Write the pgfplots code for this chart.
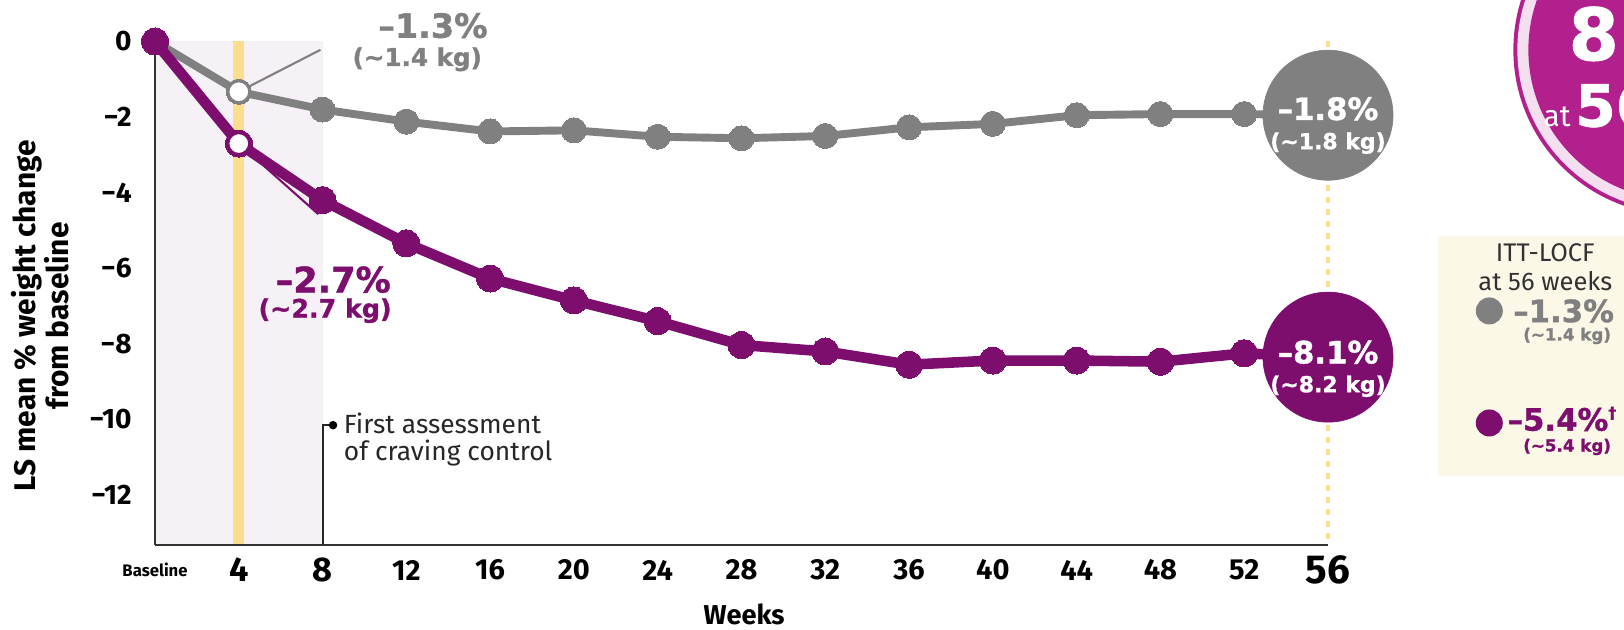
\documentclass[border=0pt]{standalone}
\usepackage{pgfplots}
\pgfplotsset{compat=1.18}
\usepackage{fontspec}
\setmainfont{Fira Sans}
\newfontfamily\dvs{DejaVu Sans}[BoldFeatures={FakeBold=1.2}]
\definecolor{cgray}{RGB}{128,128,128}
\definecolor{cpurp}{RGB}{125,14,110}
\definecolor{clav}{RGB}{246,240,247}
\definecolor{cyel}{RGB}{252,222,140}
\definecolor{ccream}{RGB}{252,248,232}
\definecolor{cmag}{RGB}{178,32,142}
\definecolor{cpink}{RGB}{244,222,240}
\definecolor{ctxt}{RGB}{50,50,50}
\begin{document}
\begin{tikzpicture}
\begin{axis}[
  at={(3.1cm,1.68cm)}, anchor=south west,
  scale only axis, width=23.46cm, height=10.07cm,
  xmin=0, xmax=56, ymin=-13.32, ymax=0,
  clip=false, set layers=standard,
  axis x line=bottom, axis y line=left,
  axis line style={-, line width=1.1pt, draw=black!80},
  major tick length=0pt,
  xtick={0,4,8,12,16,20,24,28,32,36,40,44,48,52,56},
  xticklabels={{\fontsize{9.5}{9.5}\selectfont Baseline},{\fontsize{19.5}{19.5}\selectfont 4},{\fontsize{19.5}{19.5}\selectfont 8},12,16,20,24,28,32,36,40,44,48,52,{\fontsize{23}{23}\selectfont 56}},
  xticklabel style={anchor=center, inner sep=0pt, yshift=-0.5cm, font=\bfseries\fontsize{16.5}{16.5}\selectfont},
  ytick={-12,-10,-8,-6,-4,-2,0},
  yticklabels={−12,−10,−8,−6,−4,−2,0},
  yticklabel style={anchor=east, inner sep=0pt, xshift=-0.46cm, font=\bfseries\fontsize{16}{16}\selectfont},
]
\begin{pgfonlayer}{axis background}
\fill[clav] (axis cs:0,0) rectangle (axis cs:8,-13.32);
\fill[cyel] (axis cs:3.74,0) rectangle (axis cs:4.26,-13.32);
\draw[cyel, line width=2.8pt, dash pattern=on 0.12cm off 0.12cm] (axis cs:56,0) -- (axis cs:56,-13.32);
\end{pgfonlayer}
% craving annotation
\draw[black!85, line width=1.1pt] (axis cs:8,-13.32) -- (axis cs:8,-10.15) -- (axis cs:8.5,-10.15);
\fill[black] (axis cs:8.5,-10.15) circle[radius=0.085cm];
\node[anchor=west, inner sep=0pt, align=left, text=black!85, font=\fontsize{15}{15.3}\selectfont] at (axis cs:9.0,-10.52) {First assessment\\of craving control};
% callout lines
\draw[cgray, line width=1.2pt] (axis cs:4,-1.33) -- (axis cs:7.9,-0.22);
\draw[cpurp, line width=1.2pt] (axis cs:4,-2.7) -- (axis cs:7.8,-4.57);
% gray series
\addplot[cgray, line width=4.5pt, mark=*, mark size=0.25cm, mark options={solid, fill=cgray, draw=cgray, line width=0pt}] coordinates {
(0,0) (4,-1.33) (8,-1.8) (12,-2.12) (16,-2.38) (20,-2.35) (24,-2.52) (28,-2.56) (32,-2.5) (36,-2.27) (40,-2.18) (44,-1.95) (48,-1.92) (52,-1.92) (56,-1.95)};
\addplot[only marks, mark=*, mark size=0.22cm, mark options={fill=white, draw=cgray, line width=1.8pt}] coordinates {(4,-1.33)};
\addplot[only marks, mark=*, mark size=1.3cm, mark options={fill=cgray, draw=cgray}] coordinates {(56,-1.95)};
% purple series
\addplot[cpurp, line width=6pt, mark=*, mark size=0.27cm, mark options={solid, fill=cpurp, draw=cpurp, line width=0pt}] coordinates {
(0,0) (4,-2.7) (8,-4.2) (12,-5.34) (16,-6.27) (20,-6.85) (24,-7.4) (28,-8.03) (32,-8.2) (36,-8.55) (40,-8.44) (44,-8.44) (48,-8.47) (52,-8.25) (56,-8.35)};
\addplot[only marks, mark=*, mark size=0.22cm, mark options={fill=white, draw=cpurp, line width=1.8pt}] coordinates {(4,-2.7)};
\addplot[only marks, mark=*, mark size=1.3cm, mark options={fill=cpurp, draw=cpurp}] coordinates {(56,-8.35)};
% labels
\begin{pgfonlayer}{axis foreground}
\node[text=cgray, font=\dvs\bfseries\fontsize{19}{19}\selectfont] at (axis cs:13.27,0.42) {–1.3\%};
\node[text=cgray, font=\dvs\bfseries\fontsize{14}{14}\selectfont] at (axis cs:12.52,-0.47) {(\textasciitilde1.4 kg)};
\node[text=cpurp, font=\dvs\bfseries\fontsize{20}{20}\selectfont] at (axis cs:8.51,-6.30) {–2.7\%};
\node[text=cpurp, font=\dvs\bfseries\fontsize{14.4}{14.4}\selectfont] at (axis cs:8.12,-7.12) {(\textasciitilde2.7 kg)};
\node[text=white, font=\dvs\bfseries\fontsize{17.5}{17.5}\selectfont] at (axis cs:56,-1.78) {–1.8\%};
\node[text=white, font=\dvs\bfseries\fontsize{12.5}{12.5}\selectfont] at (axis cs:56,-2.69) {(\textasciitilde1.8 kg)};
\node[text=white, font=\dvs\bfseries\fontsize{17.5}{17.5}\selectfont] at (axis cs:56,-8.22) {–8.1\%};
\node[text=white, font=\dvs\bfseries\fontsize{12.5}{12.5}\selectfont] at (axis cs:56,-9.12) {(\textasciitilde8.2 kg)};
\end{pgfonlayer}
\end{axis}
\begin{scope}[x=0.02cm,y=0.02cm]
\begin{scope}
\clip (0,0) rectangle (1624,629);
% top-right badge (cropped)
\fill[cmag] (1678,579) circle[radius=3.3cm];
\fill[cpink] (1678,579) circle[radius=3.22cm];
\fill[cmag] (1678,579) circle[radius=3.0cm];
\node[text=white, anchor=west, inner sep=0pt, font=\dvs\bfseries\fontsize{41}{41}\selectfont] at (1568,595) {8.1\%};
\node[text=white, anchor=west, inner sep=0pt] at (1543,524) {{\fontsize{17}{17}\selectfont at} {\dvs\bfseries\fontsize{33}{33}\selectfont 56 weeks}};
% legend box
\fill[ccream] (1438,153) rectangle (1640,393);
\node[text=ctxt, align=center, font=\fontsize{14.5}{16.5}\selectfont] at (1545,362) {ITT-LOCF\\at 56 weeks};
\fill[cgray] (1489,318) circle[radius=0.27cm];
\node[anchor=east, inner sep=0pt, text=cgray, font=\dvs\bfseries\fontsize{17.5}{17.5}\selectfont] at (1614,318) {–1.3\%};
\node[anchor=east, inner sep=0pt, text=cgray, font=\dvs\bfseries\fontsize{9.5}{9.5}\selectfont] at (1611,293) {(\textasciitilde1.4 kg)};
\fill[cpurp] (1489,206) circle[radius=0.27cm];
\node[anchor=west, inner sep=0pt, text=cpurp, font=\dvs\bfseries\fontsize{17.5}{17.5}\selectfont] at (1507,210) {–5.4\%\raisebox{0.4em}{\fontsize{9}{9}\selectfont †}};
\node[anchor=east, inner sep=0pt, text=cpurp, font=\dvs\bfseries\fontsize{9.5}{9.5}\selectfont] at (1611,182) {(\textasciitilde5.4 kg)};
\end{scope}
% axis titles
\node[rotate=90, align=center, font=\bfseries\fontsize{17}{19}\selectfont] at (40,313) {LS mean \% weight change\\from baseline};
\node[font=\bfseries\fontsize{15.5}{15.5}\selectfont] at (744,15) {Weeks};
\end{scope}
\pgfresetboundingbox
\useasboundingbox (0,0) rectangle (32.48cm,12.58cm);
\end{tikzpicture}
\end{document}
